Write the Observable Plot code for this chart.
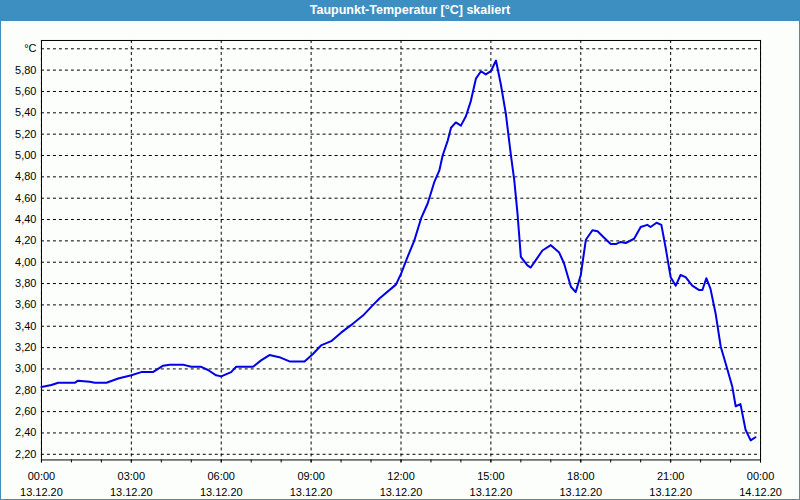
<!DOCTYPE html>
<html>
<head>
<meta charset="utf-8">
<script src="https://cdn.jsdelivr.net/npm/d3@7"></script>
<script src="https://cdn.jsdelivr.net/npm/@observablehq/plot@0.6"></script>
<style>
  html, body { margin: 0; padding: 0; background: #fff; }
  #frame {
    position: relative; width: 800px; height: 500px; box-sizing: border-box;
    background: #fcfefc; border: 1px solid #3d8fc2; border-top: none; overflow: hidden;
  }
  #title {
    height: 21px; background: #3d8fc2; color: #fff; text-align: center;
    font: bold 12.5px "Liberation Sans", sans-serif; line-height: 21px; margin: 0 -1px;
    padding-left: 20px;
  }
  #chart { position: absolute; left: -1px; top: 21px; }
</style>
</head>
<body>
<div id="frame">
  <div id="title">Taupunkt-Temperatur [°C] skaliert</div>
  <div id="chart"></div>
</div>
<script>
// hours since 13.12.20 00:00
const hours = [0, 0.33, 0.56, 1.11, 1.22, 1.61, 1.78, 2.17, 2.56, 3.0, 3.33, 3.72, 4.06, 4.28, 4.72, 5.0, 5.33, 5.56, 5.83, 6.0,
  6.33, 6.5, 7.06, 7.33, 7.61, 7.94, 8.28, 8.78, 9.06, 9.33, 9.67, 10.0, 10.33, 10.73, 11.07, 11.28, 11.83, 12.0, 12.22, 12.44,
  12.67, 12.89, 13.11, 13.28, 13.39, 13.56, 13.67, 13.83, 14.0, 14.17, 14.33, 14.5, 14.67, 14.83, 15.0, 15.17, 15.33, 15.5, 15.67, 15.78,
  15.89, 16.0, 16.22, 16.33, 16.5, 16.72, 17.0, 17.28, 17.44, 17.67, 17.83, 18.0, 18.17, 18.39, 18.56, 18.78, 19.0, 19.17, 19.33, 19.5,
  19.78, 20.0, 20.22, 20.33, 20.53, 20.69, 20.83, 21.0, 21.17, 21.33, 21.5, 21.72, 21.94, 22.06, 22.19, 22.33, 22.5, 22.67, 22.89, 23.06,
  23.17, 23.33, 23.5, 23.67, 23.83];
const dewpoint = [2.83, 2.85, 2.87, 2.87, 2.89, 2.88, 2.87, 2.87, 2.91, 2.94, 2.97, 2.97, 3.03, 3.04, 3.04, 3.02, 3.02, 2.99, 2.94, 2.93,
  2.97, 3.02, 3.02, 3.08, 3.13, 3.11, 3.07, 3.07, 3.14, 3.22, 3.26, 3.34, 3.41, 3.50, 3.60, 3.66, 3.79, 3.89, 4.05, 4.20,
  4.41, 4.55, 4.75, 4.86, 5.00, 5.14, 5.26, 5.31, 5.28, 5.37, 5.51, 5.72, 5.79, 5.76, 5.79, 5.89, 5.67, 5.39, 5.00, 4.77,
  4.45, 4.05, 3.97, 3.95, 4.02, 4.11, 4.16, 4.09, 3.99, 3.77, 3.72, 3.88, 4.21, 4.30, 4.29, 4.23, 4.17, 4.17, 4.19, 4.18,
  4.22, 4.33, 4.35, 4.33, 4.37, 4.35, 4.14, 3.86, 3.78, 3.88, 3.86, 3.78, 3.74, 3.74, 3.85, 3.75, 3.52, 3.21, 3.00, 2.83,
  2.65, 2.67, 2.43, 2.33, 2.36];
const yTicks = [2.2, 2.4, 2.6, 2.8, 3.0, 3.2, 3.4, 3.6, 3.8, 4.0, 4.2, 4.4, 4.6, 4.8, 5.0, 5.2, 5.4, 5.6, 5.8, 6.0];
const xMajorHours = [0, 3, 6, 9, 12, 15, 18, 21, 24];
const xMinorHours = d3.range(0, 25);
const startDate = Date.UTC(2020, 11, 13);

const toDate = h => new Date(startDate + h * 3600e3);
const data = hours.map((h, i) => ({t: toDate(h), v: dewpoint[i]}));
const fmtDate = d3.utcFormat("%H:%M\n%d.%m.%y");

const plot = Plot.plot({
  width: 800,
  height: 479,
  marginLeft: 41,
  marginRight: 39,
  marginTop: 19,
  marginBottom: 40,
  style: {background: "transparent", fontFamily: "Liberation Sans, sans-serif", fontSize: "11px", color: "#000"},
  x: {type: "utc", domain: [toDate(0), toDate(24)]},
  y: {domain: [2.147, 6.078]},
  marks: [
    Plot.gridY(yTicks, {stroke: "#000", strokeOpacity: 1, strokeDasharray: "3,3"}),
    Plot.gridX(xMajorHours.map(toDate), {stroke: "#000", strokeOpacity: 1, strokeDasharray: "3,3"}),
    Plot.frame({stroke: "#000"}),
    Plot.axisY(yTicks, {tickSize: 0, tickPadding: 5, tickFormat: v => Math.abs(v - 6) < 1e-9 ? "°C" : v.toFixed(2).replace(".", ","), label: null}),
    Plot.axisX(xMinorHours.map(toDate), {tickSize: 3, tickFormat: () => "", label: null}),
    Plot.axisX(xMajorHours.map(toDate), {tickSize: 3, tickPadding: 6, lineHeight: 1.45, tickFormat: fmtDate, label: null}),
    Plot.line(data, {x: "t", y: "v", stroke: "#0000e6", strokeWidth: 2})
  ]
});
document.getElementById("chart").appendChild(plot);
</script>
</body>
</html>
